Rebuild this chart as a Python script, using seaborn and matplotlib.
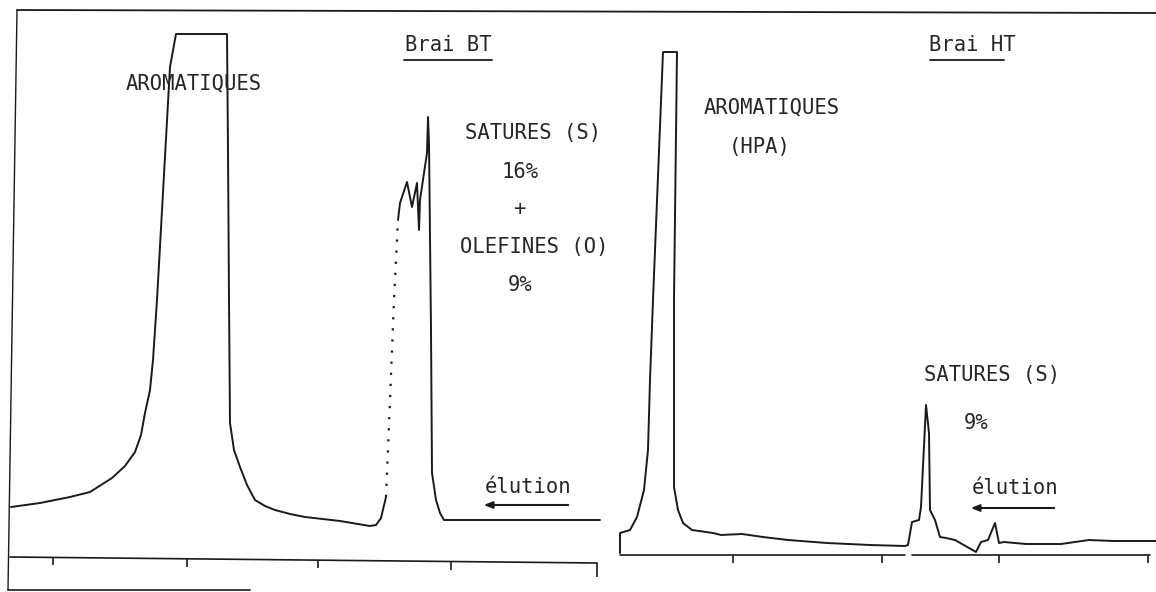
import matplotlib
matplotlib.use("Agg")
import matplotlib.pyplot as plt
import seaborn as sns

# trace points (picture pixel units, y down)
# Brai BT
bt_x = [11, 40, 70, 90, 112, 125, 135, 141, 145, 150, 153, 157, 170, 176, 227, 228, 229, 230,
        234, 240, 247, 255, 265, 275, 290, 305, 340, 370, 376, 381, 386]
bt_y = [507, 503, 497, 492, 478, 466, 452, 435, 413, 390, 360, 300, 67, 34, 34, 150, 300, 423,
        450, 467, 485, 500, 506, 510, 514, 517, 521, 526, 525, 518, 497]
bt_gap_x = [386, 390, 394, 398]
bt_gap_y = [497, 400, 300, 220]
bt2_x = [398, 400, 407, 412, 417, 419, 420, 427, 428, 429, 431, 432, 436, 440, 444, 600]
bt2_y = [220, 203, 182, 207, 183, 230, 200, 153, 117, 143, 330, 473, 500, 513, 520, 520]

# Brai HT
ht_x = [620, 620, 630, 637, 644, 648, 650, 653, 663, 677, 674, 674, 678, 683, 692, 713, 721,
        742, 763, 788, 827, 870, 905, 908, 912, 919, 921, 926, 929, 930, 935, 940, 946, 955,
        976, 981, 988, 995, 999, 1004, 1026, 1061, 1089, 1114, 1156]
ht_y = [553, 533, 530, 517, 490, 450, 380, 300, 52, 52, 300, 487, 510, 523, 530, 533, 535,
        534, 537, 540, 543, 545, 546, 545, 522, 520, 507, 405, 433, 510, 520, 537, 538, 540,
        552, 542, 540, 523, 543, 542, 544, 544, 540, 541, 541]

# time axes with their ticks
bt_axis_x = [10, 597]
bt_axis_y = [557, 563]
bt_ticks = [53, 187, 318, 451, 597]
ht_axis_y = [555, 555]
ht_ticks = [733, 882, 999, 1148]

ink = "#1a1a1a"
sns.set_style("white")
fig = plt.figure(figsize=(11.56, 5.92), dpi=100)
ax = fig.add_axes([0, 0, 1, 1])
ax.set_xlim(0, 1156)
ax.set_ylim(592, 0)
ax.axis("off")

kw = dict(sort=False, estimator=None, color=ink, ax=ax, legend=False)
sns.lineplot(x=bt_x, y=bt_y, lw=1.4, **kw)
sns.lineplot(x=bt_gap_x, y=bt_gap_y, lw=1.6, linestyle=(0, (1, 4)), **kw)
sns.lineplot(x=bt2_x, y=bt2_y, lw=1.4, **kw)
sns.lineplot(x=ht_x, y=ht_y, lw=1.4, **kw)

# frame of the scan
sns.lineplot(x=[17, 1156], y=[10, 13], lw=1.3, **kw)
sns.lineplot(x=[17, 8], y=[10, 590], lw=1.0, **kw)
sns.lineplot(x=[8, 250], y=[590, 590], lw=1.2, **kw)

# time axes
sns.lineplot(x=bt_axis_x, y=bt_axis_y, lw=1.2, **kw)
for t in bt_ticks:
    y0 = bt_axis_y[0] + (t - bt_axis_x[0]) / (bt_axis_x[1] - bt_axis_x[0]) * (bt_axis_y[1] - bt_axis_y[0])
    ax.vlines(t, y0, y0 + (14 if t == bt_ticks[-1] else 8), color=ink, lw=1.2)
sns.lineplot(x=[620, 905], y=ht_axis_y, lw=1.2, **kw)
sns.lineplot(x=[912, 1150], y=ht_axis_y, lw=1.2, **kw)
for t in ht_ticks:
    ax.vlines(t, ht_axis_y[0], ht_axis_y[0] + 8, color=ink, lw=1.2)

tkw = dict(family="DejaVu Sans Mono", fontsize=14.8, color="#262626", va="center")
ax.text(126, 83, "AROMATIQUES", ha="left", **tkw)
ax.text(448, 45, "Brai BT", ha="center", **tkw)
sns.lineplot(x=[404, 492], y=[60, 60], lw=1.3, **kw)
ax.text(533, 133, "SATURES (S)", ha="center", **tkw)
ax.text(520, 172, "16%", ha="center", **tkw)
ax.text(519, 209, "+", ha="center", **tkw)
ax.text(534, 247, "OLEFINES (O)", ha="center", **tkw)
ax.text(520, 285, "9%", ha="center", **tkw)
ax.text(528, 487, "élution", ha="center", **tkw)
ax.annotate("", xy=(481, 505), xytext=(571, 505),
            arrowprops=dict(arrowstyle="-|>,head_length=0.5,head_width=0.2", color=ink, lw=1.5))

ax.text(972, 45, "Brai HT", ha="center", **tkw)
sns.lineplot(x=[930, 1004], y=[60, 60], lw=1.3, **kw)
ax.text(772, 107, "AROMATIQUES", ha="center", **tkw)
ax.text(760, 147, "(HPA)", ha="center", **tkw)
ax.text(992, 375, "SATURES (S)", ha="center", **tkw)
ax.text(976, 423, "9%", ha="center", **tkw)
ax.text(1015, 488, "élution", ha="center", **tkw)
ax.annotate("", xy=(968, 508), xytext=(1057, 508),
            arrowprops=dict(arrowstyle="-|>,head_length=0.5,head_width=0.2", color=ink, lw=1.5))

fig.savefig("out.png", dpi=100, facecolor="white")
